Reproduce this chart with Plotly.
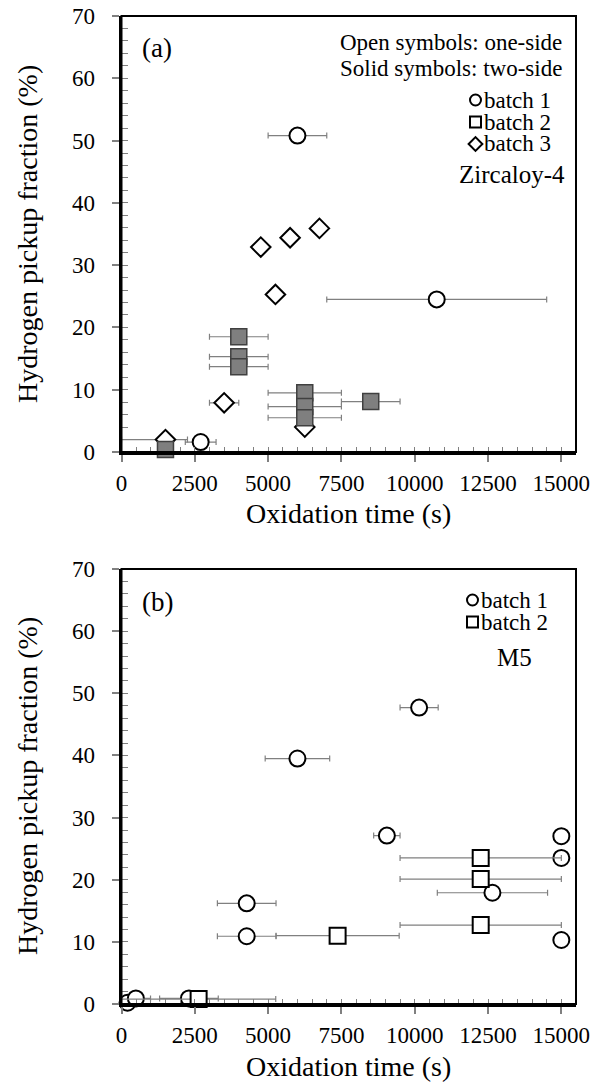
import plotly.graph_objects as go

W, H = 596, 1092
FONT = "Liberation Serif"

# ---- Panel (a): Zircaloy-4 ----
a_b1_x = [6000, 10750, 2700]
a_b1_y = [50.8, 24.5, 1.6]
a_b1_err = [1000, 3750, 525]

a_b2_x = [4000, 4000, 4000, 6250, 6250, 6250, 8500, 1500]
a_b2_y = [18.5, 15.3, 13.7, 9.5, 7.3, 5.5, 8.1, 0.4]
a_b2_err = [1000, 1000, 1000, 1250, 1250, 1250, 1000, 0]

a_b3_x = [4750, 5750, 6750, 5250, 3500, 6250, 1500]
a_b3_y = [32.9, 34.4, 35.9, 25.3, 7.9, 4.0, 2.0]
a_b3_err_plus = [0, 0, 0, 0, 500, 0, 750]
a_b3_err_minus = [0, 0, 0, 0, 500, 0, 1500]

# ---- Panel (b): M5 ----
b_b1_x = [6000, 10150, 9050, 15000, 15000, 12650, 15000, 4270, 4270, 205, 490, 2300]
b_b1_y = [39.5, 47.7, 27.1, 27.0, 23.5, 17.9, 10.3, 16.2, 10.9, 0.2, 0.9, 0.9]
b_b1_err = [1100, 650, 450, 0, 0, 1880, 0, 1000, 1000, 0, 500, 1000]

b_b2_x = [12250, 12250, 12250, 7370, 2630]
b_b2_y = [23.5, 20.1, 12.7, 11.0, 0.8]
b_b2_err = [2750, 2750, 2750, 2100, 2630]

x_ticks = [0, 2500, 5000, 7500, 10000, 12500, 15000]
x_ticktext = ["0", "2500", "5000", "7500", "10000", "12500", "15000"]
y_ticks = [0, 10, 20, 30, 40, 50, 60, 70]
y_ticktext = ["0", "10", "20", "30", "40", "50", "60", "70"]
x_title = "Oxidation time (s)"
y_title = "Hydrogen pickup fraction (%)"

ERR_COLOR = "#808080"
OPEN = dict(color="white", line=dict(color="black", width=2))
SOLID = dict(color="#7f7f7f", line=dict(color="#404040", width=1.5))


def err(plus, minus=None):
    d = dict(type="data", array=plus, color=ERR_COLOR, thickness=1.2, width=3, visible=True)
    if minus is not None:
        d["symmetric"] = False
        d["arrayminus"] = minus
    return d


fig = go.Figure()

# panel (a)
fig.add_trace(go.Scatter(x=a_b1_x, y=a_b1_y, mode="markers", error_x=err(a_b1_err),
                         marker=dict(symbol="circle", size=16, **OPEN), cliponaxis=False,
                         xaxis="x", yaxis="y", showlegend=False))
fig.add_trace(go.Scatter(x=a_b3_x, y=a_b3_y, mode="markers", error_x=err(a_b3_err_plus, a_b3_err_minus),
                         marker=dict(symbol="diamond", size=15, **OPEN), cliponaxis=False,
                         xaxis="x", yaxis="y", showlegend=False))
fig.add_trace(go.Scatter(x=a_b2_x, y=a_b2_y, mode="markers", error_x=err(a_b2_err),
                         marker=dict(symbol="square", size=16, **SOLID), cliponaxis=False,
                         xaxis="x", yaxis="y", showlegend=False))
# panel (b)
fig.add_trace(go.Scatter(x=b_b1_x, y=b_b1_y, mode="markers", error_x=err(b_b1_err),
                         marker=dict(symbol="circle", size=16, **OPEN), cliponaxis=False,
                         xaxis="x2", yaxis="y2", showlegend=False))
fig.add_trace(go.Scatter(x=b_b2_x, y=b_b2_y, mode="markers", error_x=err(b_b2_err),
                         marker=dict(symbol="square", size=16, **OPEN), cliponaxis=False,
                         xaxis="x2", yaxis="y2", showlegend=False))


def px(x):
    return x / W


def py(y):
    return 1 - y / H


XDOM = [px(121.5), px(576)]
A_DOM = [py(452), py(16)]
B_DOM = [py(1004), py(569)]


def xaxis(anchor):
    return dict(domain=XDOM, anchor=anchor, range=[0, 15500], tickvals=x_ticks, ticktext=x_ticktext,
                ticks="outside", ticklen=7, tickwidth=1.5, tickcolor="#808080",
                minor=dict(dtick=500, tick0=0, ticks="inside", ticklen=5, tickwidth=1.2, tickcolor="#808080"),
                showline=True, linewidth=3, linecolor="black", showgrid=False, zeroline=False,
                tickfont=dict(family=FONT, size=23, color="black"), ticklabelstandoff=1,
                automargin=False, fixedrange=True)


def yaxis(anchor, dom):
    return dict(domain=dom, anchor=anchor, range=[0, 70], tickvals=y_ticks, ticktext=y_ticktext,
                ticks="outside", ticklen=7, tickwidth=1.5, tickcolor="#808080",
                minor=dict(dtick=2, tick0=0, ticks="inside", ticklen=6, tickwidth=1.2, tickcolor="#808080"),
                showline=True, linewidth=3, linecolor="black", showgrid=False, zeroline=False,
                tickfont=dict(family=FONT, size=23, color="black"), ticklabelstandoff=12,
                automargin=False, fixedrange=True)


shapes = []
for xr, yr in (("x", "y"), ("x2", "y2")):
    shapes.append(dict(type="rect", xref=f"{xr} domain", yref=f"{yr} domain", x0=0, x1=1, y0=0, y1=1,
                       line=dict(color="black", width=2), layer="above"))

annotations = []


def text(x, y, s, size=23, xanchor="left", angle=0):
    annotations.append(dict(x=px(x), y=py(y), xref="paper", yref="paper", text=s, showarrow=False,
                            xanchor=xanchor, yanchor="middle", textangle=angle, borderpad=0,
                            font=dict(family=FONT, size=size, color="black")))


def legend_symbol(kind, cx, cy, r):
    if kind == "circle":
        shapes.append(dict(type="circle", xref="paper", yref="paper", x0=px(cx - r), x1=px(cx + r),
                           y0=py(cy + r), y1=py(cy - r), line=dict(color="black", width=2)))
    elif kind == "square":
        shapes.append(dict(type="rect", xref="paper", yref="paper", x0=px(cx - r), x1=px(cx + r),
                           y0=py(cy + r), y1=py(cy - r), line=dict(color="black", width=2)))
    else:
        rr = r * 1.25
        path = (f"M {px(cx - rr)},{py(cy)} L {px(cx)},{py(cy - rr)} L {px(cx + rr)},{py(cy)} "
                f"L {px(cx)},{py(cy + rr)} Z")
        shapes.append(dict(type="path", xref="paper", yref="paper", path=path,
                           line=dict(color="black", width=2)))


# panel (a) texts
text(141, 48, "(a)", size=27)
text(563, 43, "Open symbols: one-side", xanchor="right")
text(563, 68, "Solid symbols: two-side", xanchor="right")
for i, (k, lab) in enumerate((("circle", "batch 1"), ("square", "batch 2"), ("diamond", "batch 3"))):
    yy = 100 + 22 * i
    legend_symbol(k, 475.5, yy, 5.5)
    text(482.5, yy, lab)
text(566, 174, "Zircaloy-4", size=25, xanchor="right")

# panel (b) texts
text(141, 602, "(b)", size=27)
for i, (k, lab) in enumerate((("circle", "batch 1"), ("square", "batch 2"))):
    yy = 600 + 22 * i
    legend_symbol(k, 472.5, yy, 5.5)
    text(480, yy, lab)
text(514, 657, "M5", size=25, xanchor="center")

# axis titles
text(348, 513, x_title, size=28, xanchor="center")
text(348, 1066, x_title, size=28, xanchor="center")
text(27, 234, y_title, size=28, xanchor="center", angle=-90)
text(27, 786, y_title, size=28, xanchor="center", angle=-90)

fig.update_layout(
    width=W, height=H, margin=dict(l=0, r=0, t=0, b=0),
    paper_bgcolor="white", plot_bgcolor="white",
    xaxis=xaxis("y"), yaxis=yaxis("x", A_DOM),
    xaxis2=xaxis("y2"), yaxis2=yaxis("x2", B_DOM),
    shapes=shapes, annotations=annotations, showlegend=False,
)

fig.write_html("out.html")
